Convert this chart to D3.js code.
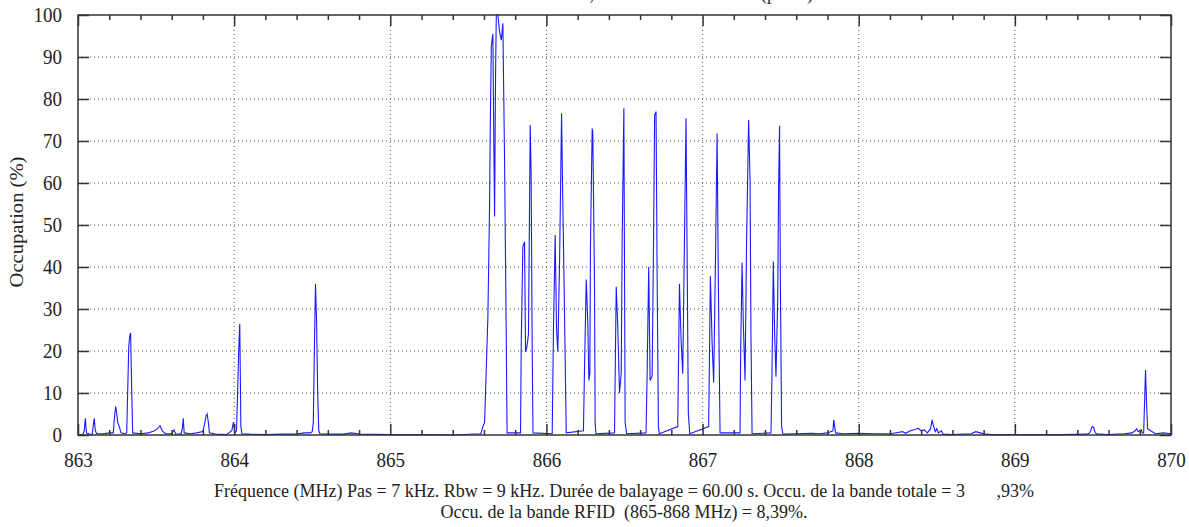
<!DOCTYPE html>
<html>
<head>
<meta charset="utf-8">
<script src="https://cdn.jsdelivr.net/npm/d3@7"></script>
<style>
  body { margin: 0; background: #fff; }
  svg text { font-family: "Liberation Serif", "Times New Roman", Times, "DejaVu Serif", serif !important; fill: #222; }
</style>
</head>
<body>
<svg id="chart" width="1189" height="527"></svg>
<script>
// tick values
var xMajor = [863, 864, 865, 866, 867, 868, 869, 870];
var yMajor = [0, 10, 20, 30, 40, 50, 60, 70, 80, 90, 100];

// [frequence MHz, occupation %]
var bandLow = [
  [863.000, 0], [863.030, 0], [863.040, 1], [863.047, 4], [863.054, 0.5], [863.090, 0],
  [863.097, 2], [863.104, 4], [863.111, 1], [863.120, 0.3], [863.160, 0.3], [863.200, 0.5],
  [863.226, 0.5], [863.233, 4], [863.241, 6.8], [863.247, 5.5], [863.254, 3], [863.265, 2],
  [863.275, 0.5], [863.300, 0.3], [863.312, 0.5], [863.318, 10], [863.325, 21], [863.331, 23.5],
  [863.337, 24.3], [863.343, 12.5], [863.350, 0.5], [863.400, 0.3], [863.450, 0.5], [863.490, 1],
  [863.510, 1.5], [863.525, 2.2], [863.540, 1], [863.560, 0.3], [863.600, 0.3], [863.615, 1.2],
  [863.625, 0.3], [863.660, 0.2], [863.668, 1.5], [863.674, 4], [863.680, 0.5], [863.720, 0.3],
  [863.760, 0.5], [863.800, 0.8], [863.810, 2.5], [863.820, 4.5], [863.827, 5], [863.835, 3],
  [863.842, 0.5], [863.880, 0.2], [863.950, 0.1], [863.985, 1], [863.995, 3], [864.005, 0.5],
  [864.015, 1], [864.022, 10], [864.030, 21], [864.036, 26.5], [864.043, 2], [864.050, 0.3],
  [864.100, 0.2], [864.200, 0.1], [864.300, 0.2], [864.400, 0.2], [864.450, 0.5], [864.490, 0.5],
  [864.500, 0.8], [864.507, 3], [864.514, 20.5], [864.521, 36], [864.528, 27], [864.535, 10],
  [864.542, 1], [864.550, 0.3], [864.600, 0.2], [864.700, 0.2], [864.750, 0.5], [864.800, 0.2],
  [865.000, 0.1], [865.200, 0.1], [865.400, 0], [865.580, 0.3]
];

var bandRfid = [
  [865.593, 2], [865.604, 3], [865.625, 28], [865.636, 55], [865.640, 71.8], [865.647, 92.5],
  [865.657, 95.5], [865.663, 70], [865.668, 52], [865.674, 85], [865.679, 100], [865.689, 100],
  [865.700, 96], [865.711, 94], [865.721, 98], [865.732, 65], [865.743, 22], [865.748, 0.5],
  [865.834, 0.5], [865.839, 22.6], [865.849, 44.8], [865.860, 46], [865.866, 19.8], [865.875, 21],
  [865.885, 24], [865.896, 73.8], [865.902, 62], [865.909, 20], [865.914, 0.5],
  [866.037, 0.3], [866.045, 25], [866.056, 47.6], [866.065, 25], [866.073, 19.8], [866.084, 41],
  [866.097, 76.6], [866.103, 60], [866.111, 41], [866.127, 0.5],
  [866.237, 1], [866.244, 16], [866.255, 37], [866.265, 26.6], [866.272, 13], [866.278, 14.6],
  [866.282, 44.8], [866.293, 73], [866.297, 72], [866.308, 36], [866.312, 3], [866.317, 0.3],
  [866.436, 0.5], [866.447, 35.3], [866.457, 25.8], [866.468, 10], [866.479, 14.7], [866.485, 46.4],
  [866.496, 77.8], [866.504, 3], [866.514, 0.3],
  [866.638, 0.5], [866.645, 14.5], [866.649, 25], [866.655, 40], [866.664, 13], [866.677, 14],
  [866.686, 46.4], [866.693, 76.2], [866.702, 77], [866.709, 37.6], [866.717, 2], [866.723, 0.3],
  [866.841, 2], [866.852, 36], [866.862, 23], [866.873, 14.6], [866.884, 46.4], [866.894, 75.4],
  [866.901, 43], [866.909, 5], [866.918, 0.3],
  [867.039, 2], [867.050, 37.8], [867.061, 22], [867.071, 12.5], [867.082, 40], [867.093, 71.8],
  [867.101, 36], [867.112, 0.5],
  [867.240, 0.5], [867.244, 20], [867.253, 41], [867.261, 26.6], [867.272, 13], [867.282, 46.4],
  [867.295, 75], [867.304, 60.7], [867.310, 23.4], [867.317, 0.3],
  [867.438, 0.5], [867.444, 13], [867.453, 41.3], [867.461, 25], [867.470, 13.9], [867.481, 32],
  [867.487, 59], [867.493, 73.6], [867.498, 37.7], [867.506, 2], [867.514, 0.3]
];

var bandHigh = [
  [867.520, 0.2], [867.600, 0.3], [867.700, 0.4], [867.750, 0.3], [867.800, 0.5], [867.835, 1],
  [867.840, 3.6], [867.846, 2], [867.852, 0.5], [867.900, 0.3], [868.000, 0.4], [868.100, 0.3],
  [868.200, 0.3], [868.250, 0.6], [868.280, 0.8], [868.300, 0.4], [868.330, 1], [868.360, 1.3],
  [868.380, 1.6], [868.400, 1], [868.420, 1.2], [868.440, 0.5], [868.460, 1.5], [868.470, 3.6],
  [868.480, 2], [868.490, 0.8], [868.500, 1.5], [868.510, 0.5], [868.530, 1], [868.540, 0.2],
  [868.600, 0.1], [868.720, 0.3], [868.750, 0.8], [868.780, 0.5], [868.800, 0.3], [868.850, 0.1],
  [869.000, 0.1], [869.300, 0.1], [869.460, 0.2], [869.480, 0.5], [869.495, 2], [869.505, 1.8],
  [869.515, 0.5], [869.530, 0.2], [869.600, 0.1], [869.700, 0.3], [869.750, 0.5], [869.770, 1],
  [869.780, 1.5], [869.790, 0.8], [869.810, 1.3], [869.815, 0.5], [869.825, 0.5], [869.830, 7],
  [869.837, 15.5], [869.843, 8], [869.850, 1.5], [869.870, 1], [869.900, 0.3], [869.950, 0.5],
  [870.000, 0.3]
];

var all_data = bandLow.concat(bandRfid, bandHigh);

var svg = d3.select('#chart');
var margin = { top: 15, left: 78, bottom: 92, right: 18 };
var width = 1189;
var height = 527;

var x = d3.scaleLinear().domain([863, 870]).range([margin.left, width - margin.right]);
var y = d3.scaleLinear().domain([0, 100]).range([height - margin.bottom, margin.top]);

var xMinor = d3.range(863, 870.001, 0.2).filter(function (v) {
  return Math.abs(v - Math.round(v)) > 0.01;
});

// grid
var grid = svg.append("g").attr("stroke", "#555").attr("stroke-width", 1)
  .attr("stroke-dasharray", "1,3");
grid.selectAll("line.gx").data(xMajor.slice(1, -1)).enter().append("line")
  .attr("x1", function (d) { return x(d); }).attr("x2", function (d) { return x(d); })
  .attr("y1", y(0)).attr("y2", y(100));
grid.selectAll("line.gy").data(yMajor.slice(1, -1)).enter().append("line")
  .attr("x1", x(863)).attr("x2", x(870))
  .attr("y1", function (d) { return y(d); }).attr("y2", function (d) { return y(d); });

// data line
var line = d3.line()
  .x(function (d) { return x(d[0]); })
  .y(function (d) { return y(d[1]); });

svg.append("path")
  .datum(all_data)
  .attr("fill", "none")
  .attr("stroke", "#1a1aff")
  .attr("stroke-width", 1.1)
  .attr("d", line);

// axes with inward ticks (the source picture is a bit stretched vertically)
function styleAxis(g) {
  g.attr("font-family", null);
  g.select(".domain").remove();
  g.selectAll(".tick line").attr("stroke", "#333").attr("stroke-width", 1.5);
  g.selectAll("text").style("font-size", "19px").attr("fill", "#222")
    .attr("transform", "scale(1,1.1)");
}

svg.append("g")
  .attr("transform", "translate(0," + y(0) + ")")
  .call(d3.axisBottom(x).tickValues(xMajor).tickSize(-11).tickPadding(16).tickFormat(d3.format("d")))
  .call(styleAxis);
svg.append("g")
  .attr("transform", "translate(0," + y(0) + ")")
  .call(d3.axisBottom(x).tickValues(xMinor).tickSize(-5).tickFormat(""))
  .call(styleAxis);
svg.append("g")
  .attr("transform", "translate(0," + y(100) + ")")
  .call(d3.axisTop(x).tickValues(xMajor).tickSize(-11).tickFormat(""))
  .call(styleAxis);
svg.append("g")
  .attr("transform", "translate(0," + y(100) + ")")
  .call(d3.axisTop(x).tickValues(xMinor).tickSize(-5).tickFormat(""))
  .call(styleAxis);
svg.append("g")
  .attr("transform", "translate(" + x(863) + ",0)")
  .call(d3.axisLeft(y).tickValues(yMajor).tickSize(-11).tickPadding(16))
  .call(styleAxis);
svg.append("g")
  .attr("transform", "translate(" + x(870) + ",0)")
  .call(d3.axisRight(y).tickValues(yMajor).tickSize(-11).tickFormat(""))
  .call(styleAxis);

// frame
svg.append("rect")
  .attr("x", x(863)).attr("y", y(100))
  .attr("width", x(870) - x(863)).attr("height", y(0) - y(100))
  .attr("fill", "none").attr("stroke", "#333").attr("stroke-width", 1.5);

// title (cut off by the top of the picture, as in the source)
svg.append("text")
  .attr("x", (x(863) + x(870)) / 2).attr("y", 0)
  .style("text-anchor", "middle").style("font-size", "18px")
  .text("Mesure n°3 à Rennes, bande 863 - 870 MHz (pmax)");

// axis labels
svg.append("text")
  .attr("transform", "translate(" + 23 + "," + 222 + "), rotate(-90), scale(1.12,1)")
  .style("text-anchor", "middle").style("font-size", "18.4px")
  .text("Occupation (%)");

svg.append("text")
  .attr("x", 624).attr("y", 497)
  .style("text-anchor", "middle").style("font-size", "18px")
  .attr("xml:space", "preserve")
  .text("Fréquence (MHz) Pas = 7 kHz. Rbw = 9 kHz. Durée de balayage = 60.00 s. Occu. de la bande totale = 3       ,93%");
svg.append("text")
  .attr("x", 624).attr("y", 518)
  .style("text-anchor", "middle").style("font-size", "18px")
  .attr("xml:space", "preserve")
  .text("Occu. de la bande RFID  (865-868 MHz) = 8,39%.");
</script>
</body>
</html>
